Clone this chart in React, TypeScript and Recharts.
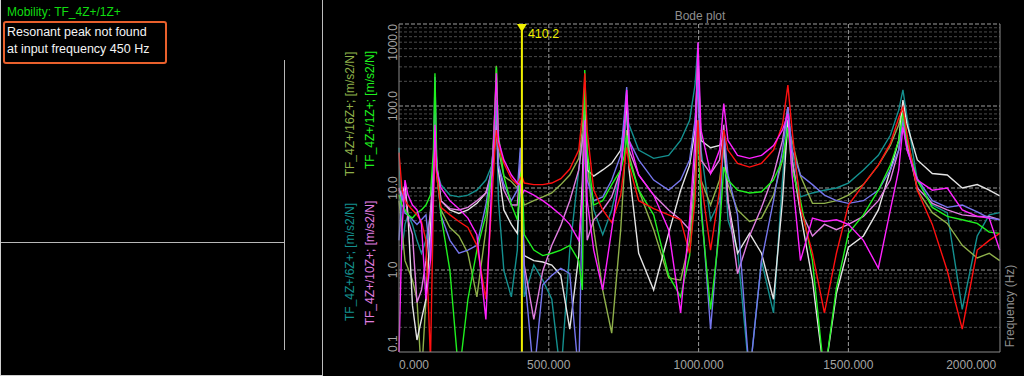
import React from 'react';
import { LineChart, Line, XAxis, YAxis, ReferenceLine } from 'recharts';

// frequency grid (Hz)
const freq = [0, 10, 20, 30, 45, 60, 75, 90, 105, 115, 120, 126, 140, 170, 200, 230, 260, 290, 310, 320, 325, 332, 350, 375, 395, 405, 410, 418, 450, 480, 510, 540, 570, 600, 612, 620, 628, 650, 680, 710, 740, 752, 760, 768, 800, 850, 900, 940, 970, 988, 998, 1008, 1040, 1070, 1084, 1098, 1130, 1170, 1210, 1250, 1280, 1298, 1312, 1340, 1380, 1420, 1460, 1500, 1550, 1600, 1640, 1668, 1682, 1696, 1730, 1780, 1830, 1880, 1930, 1970, 2005];

// magnitudes [m/s2/N]
const tf1Z = [8.2, 6.2, 5.4, 4.7, 4.3, 5, 5.4, 6.2, 8.2, 29, 250, 22, 4.7, 0.98, 0.05, 0.44, 1.75, 4.7, 16.6, 67, 300, 44, 14, 6.2, 4.1, 14, 16.6, 2.7, 1.75, 1.5, 1.6, 1.75, 2.0, 1.3, 0.57, 275, 29, 6.2, 7, 11, 16.6, 25, 44, 22, 9.4, 4.7, 0.86, 0.47, 1.5, 9.4, 59, 5.4, 0.33, 3.1, 18, 12.5, 9.4, 8.7, 9, 12.5, 22, 55, 16.6, 7, 1.3, 0.05, 0.6, 2.8, 4.7, 9.4, 19, 38, 82, 38, 12.5, 5.8, 4.5, 4.1, 3.7, 2.9, 2.8];
const tf16Z = [7, 3.1, 1.3, 1.05, 0.75, 0.44, 0.05, 0.44, 3.1, 12.5, 38, 14, 5.4, 3.3, 2.6, 1.6, 0.47, 3.1, 16.6, 89, 310, 29, 14, 12, 10, 13, 8.2, 6.2, 7, 7.8, 8.7, 11, 14.4, 23, 51, 180, 22, 3.1, 0.57, 0.17, 3.1, 16.6, 51, 25, 9.4, 3.1, 0.8, 0.75, 2.3, 12.5, 67, 12.5, 6.2, 12.5, 31, 11, 5.4, 3.9, 4.3, 8.2, 22, 51, 38, 14, 6.5, 6.5, 7, 8.2, 11, 19, 33, 59, 95, 38, 9.4, 5, 3.7, 2.0, 1.4, 1.6, 1.3];
const tf6Z = [31, 1.75, 3.6, 4.7, 3.6, 2.3, 1.6, 2.3, 4.7, 12.5, 38, 16.6, 11, 8.2, 7.8, 8.2, 9.4, 12.5, 19, 51, 85, 7, 0.98, 0.47, 1.75, 27, 3.1, 0.47, 1.15, 0.75, 0.44, 0.05, 1.75, 16.6, 38, 67, 19.5, 5.4, 2.7, 5.4, 16.6, 38, 80, 59, 29, 23, 25, 38, 67, 180, 580, 29, 4.1, 7, 33, 4.1, 1.75, 0.05, 1.3, 0.3, 12.5, 89, 29, 7.8, 8.7, 9.4, 10, 11.5, 16.6, 25, 44, 89, 157, 72, 12.5, 6.2, 5, 0.33, 2.6, 4.7, 5];
const tf10Z = [10, 7, 9.4, 4.1, 2.7, 0.4, 0.57, 1.3, 5.4, 16.6, 51, 19, 7, 5.6, 5.4, 5.8, 7, 8.7, 16.6, 44, 89, 19, 9.4, 6.2, 6.2, 20, 5.4, 1.15, 0.25, 0.98, 2.0, 3.5, 7, 16.6, 38, 59, 2.3, 4.1, 5.4, 7.8, 16.6, 51, 136, 29, 14.4, 8.2, 5.4, 4.1, 3.1, 22, 275, 22, 15, 22, 59, 7, 0.9, 2.6, 5.8, 14.4, 38, 97, 22, 5.4, 2.6, 3.6, 3.1, 3.6, 4.5, 7, 12.5, 29, 82, 33, 10, 6.5, 5.4, 4.7, 4.5, 4.5, 4.1];
const redTrace = [27, 9.5, 7, 6.2, 5.4, 4.7, 3.9, 2.3, 0.08, 7, 33, 14, 5.8, 4.7, 3.9, 3.3, 2.0, 0.44, 7, 29, 51, 33, 20, 13, 11, 13, 14, 11.5, 11, 11, 11.5, 13, 17, 29, 77, 250, 50, 9.4, 5.4, 3.8, 8.2, 19, 31, 19, 7, 5.6, 4.7, 4.1, 1.6, 7, 67, 12.5, 1.75, 9.4, 51, 29, 20, 18, 20, 29, 59, 180, 51, 5.8, 1.6, 0.3, 1.6, 6.2, 11, 19, 35, 72, 97, 44, 9.4, 3.6, 0.98, 0.19, 1.75, 2.3, 2.8];
const magentaTrace = [0.1, 3.1, 12.5, 8.2, 6.2, 5.4, 3.6, 0.44, 1.3, 9.4, 59, 16.6, 10, 7, 5.6, 4.3, 2.7, 0.25, 12.5, 89, 250, 38, 22, 14.4, 11.5, 11, 8.2, 9.4, 8.2, 7, 5.8, 4.7, 3.6, 2.3, 7, 67, 7, 1.75, 0.57, 3.1, 16.6, 51, 157, 38, 14.4, 8.2, 3.1, 0.3, 4.1, 38, 600, 51, 15, 29, 107, 38, 25, 23, 25, 33, 51, 80, 14.4, 1.3, 4.3, 3.9, 4.1, 3.6, 2.3, 1.05, 5.4, 16.6, 56, 29, 12.5, 9.4, 10, 5.4, 4.5, 4.3, 1.75];
const blueTrace = [2.3, 9.4, 4.9, 4.7, 4.1, 3.6, 4.1, 4.7, 1.3, 12.5, 225, 16.6, 4.7, 2.3, 1.6, 1.75, 2.0, 6.2, 19, 51, 118, 19, 11, 7, 9.4, 31, 9.4, 0.98, 0.05, 0.66, 0.86, 1.05, 0.9, 0.05, 7, 56, 12.5, 7, 7.8, 12.5, 25, 77, 170, 38, 22, 12.5, 9.4, 12.5, 22, 67, 208, 7, 0.19, 4.1, 51, 14.4, 4.7, 0.05, 1.3, 7, 29, 97, 29, 14.4, 11, 8.2, 7, 6.5, 7, 9.4, 16.6, 29, 67, 29, 13, 7, 5.8, 6.2, 5.1, 4.3, 4.1];
const whiteTrace = [9.4, 8.2, 11, 4.7, 0.37, 0.14, 0.25, 0.44, 3.1, 16.6, 59, 19, 7, 5.4, 4.9, 5.4, 6.5, 8.7, 14.4, 38, 67, 16.6, 5.4, 3.6, 2.8, 14.4, 7, 1.5, 1.3, 1.25, 1.15, 0.86, 0.19, 1.5, 12.5, 108, 16.6, 14, 16.6, 20, 29, 59, 108, 16.6, 1.6, 0.57, 2.8, 9.4, 19, 51, 364, 38, 31, 33, 42, 7, 1.6, 2.8, 1.6, 0.44, 7, 67, 22, 4.9, 0.75, 0.05, 0.52, 1.9, 2.6, 5.4, 16.6, 38, 118, 59, 22, 15, 14.4, 10, 11, 9.4, 8];

const xTicks = [0, 500, 1000, 1500, 2000];
const yTicks = [0.1, 1, 10, 100, 1000];
const majorGrid = [1, 10, 100, 1000];
const minorGrid = [0.2, 0.3, 0.4, 0.5, 0.6, 0.7, 0.8, 0.9, 2, 3, 4, 5, 6, 7, 8, 9, 20, 30, 40, 50, 60, 70, 80, 90, 200, 300, 400, 500, 600, 700, 800, 900];
const freqGrid = [500, 1000, 1500];
const cursorFreq = 410.2;

const FONT = '"Liberation Sans", Arial, sans-serif';
const AXIS_GRAY = '#8a8a8a';
const TEXT_GRAY = '#a4a4a4';

const series = [
  { key: 'tf6Z', values: tf6Z, color: '#14908f' },
  { key: 'tf16Z', values: tf16Z, color: '#8fb04a' },
  { key: 'white', values: whiteTrace, color: '#e4e4e4' },
  { key: 'tf10Z', values: tf10Z, color: '#e07ee0' },
  { key: 'blue', values: blueTrace, color: '#7676ee' },
  { key: 'tf1Z', values: tf1Z, color: '#1ff01f' },
  { key: 'red', values: redTrace, color: '#ff1010' },
  { key: 'magenta', values: magentaTrace, color: '#ff22ff' },
];

const XTick = (props: any) => {
  const { x, y, payload } = props;
  const v = payload.value;
  const anchor = v === xTicks[0] ? 'start' : v === xTicks[xTicks.length - 1] ? 'end' : 'middle';
  return (
    <text x={anchor === 'end' ? x - 2 : x} y={y} dy="0.71em" textAnchor={anchor} fill={TEXT_GRAY} fontSize={12} fontFamily={FONT}>
      {v.toFixed(3)}
    </text>
  );
};

const YTick = (props: any) => {
  const { x, y, payload } = props;
  const v = payload.value;
  const anchor = v === yTicks[yTicks.length - 1] ? 'end' : v === yTicks[0] ? 'start' : 'middle';
  const tx = x + 6;
  return (
    <text x={tx} y={y} transform={`rotate(-90 ${tx} ${y})`} textAnchor={anchor} fill={TEXT_GRAY} fontSize={12} fontFamily={FONT}>
      {v.toFixed(1)}
    </text>
  );
};

const CursorMark = (props: any) => {
  const { x, y } = props.viewBox;
  return (
    <g>
      <polygon points={`${x - 5},${y} ${x + 5},${y} ${x},${y + 8}`} fill="#f0f000" />
      <text x={x + 6} y={y + 14} fill="#f0f000" fontSize={12.5} fontFamily={FONT}>
        {cursorFreq.toFixed(1)}
      </text>
    </g>
  );
};

const Rotated = ({ cx, cy, color, children }: any) => (
  <div
    style={{
      position: 'absolute',
      left: cx - 80,
      top: cy - 9,
      width: 160,
      height: 18,
      lineHeight: '18px',
      fontSize: 12,
      textAlign: 'center',
      whiteSpace: 'nowrap',
      color,
      transform: 'rotate(-90deg)',
    }}
  >
    {children}
  </div>
);

export default function App() {
  const data = freq.map((f, i) => {
    const row: any = { f };
    series.forEach((s) => {
      row[s.key] = s.values[i];
    });
    return row;
  });

  return (
    <div style={{ position: 'fixed', left: 0, top: 0, width: 1024, height: 376, background: '#000', overflow: 'hidden', fontFamily: FONT }}>
      {/* left info panel */}
      <div style={{ position: 'absolute', left: 0, top: 0, width: 321, height: 375, borderLeft: '1px solid #cfcfcf', borderRight: '1px solid #bdbdbd', borderBottom: '1px solid #cfcfcf' }} />
      <div style={{ position: 'absolute', left: 284, top: 60, width: 1, height: 290, background: '#b8b8b8' }} />
      <div style={{ position: 'absolute', left: 1, top: 242, width: 284, height: 1, background: '#b8b8b8' }} />
      <div style={{ position: 'absolute', left: 3, top: 21, width: 160, height: 39, border: '2px solid #e8602c', borderRadius: 3 }} />
      <div style={{ position: 'absolute', left: 7, top: 4, fontSize: 12, lineHeight: '16px', color: '#10dd10', whiteSpace: 'nowrap' }}>
        Mobility: TF_4Z+/1Z+
      </div>
      <div style={{ position: 'absolute', left: 7, top: 24, fontSize: 12.5, lineHeight: '17px', color: '#f4f4f4', whiteSpace: 'nowrap' }}>
        Resonant peak not found
        <br />
        at input frequency 450 Hz
      </div>

      {/* Bode plot panel */}
      <div style={{ position: 'absolute', left: 600, top: 9, width: 200, textAlign: 'center', fontSize: 12, lineHeight: '14px', color: '#8e8e8e' }}>
        Bode plot
      </div>
      <Rotated cx={350} cy={114} color="#8fb04a">TF_4Z+/16Z+; [m/s2/N]</Rotated>
      <Rotated cx={350} cy={262} color="#14908f">TF_4Z+/6Z+; [m/s2/N]</Rotated>
      <Rotated cx={370} cy={110} color="#1ff01f">TF_4Z+/1Z+; [m/s2/N]</Rotated>
      <Rotated cx={370} cy={263} color="#e07ee0">TF_4Z+/10Z+; [m/s2/N]</Rotated>
      <div
        style={{
          position: 'absolute',
          left: 1010 - 60,
          top: 306 - 8,
          width: 120,
          height: 16,
          lineHeight: '16px',
          fontSize: 12,
          textAlign: 'center',
          color: '#8e8e8e',
          transform: 'rotate(-90deg)',
          whiteSpace: 'nowrap',
        }}
      >
        Frequency (Hz)
      </div>

      <div style={{ position: 'absolute', left: 330, top: 0 }}>
        <LineChart width={694} height={376} data={data} margin={{ top: 24, right: 0, bottom: 0, left: 0 }}>
          <XAxis
            dataKey="f"
            type="number"
            domain={[0, 2006]}
            ticks={xTicks}
            interval={0}
            height={24}
            tickLine={false}
            axisLine={{ stroke: AXIS_GRAY }}
            tick={<XTick />}
          />
          <YAxis
            scale="log"
            domain={[0.1, 1000]}
            allowDataOverflow
            ticks={yTicks}
            interval={0}
            width={69}
            tickLine={false}
            axisLine={{ stroke: AXIS_GRAY }}
            tick={<YTick />}
          />
          <YAxis yAxisId="right" orientation="right" width={24} domain={[0, 1]} tick={false} tickLine={false} axisLine={{ stroke: AXIS_GRAY }} />
          {minorGrid.map((v) => (
            <ReferenceLine key={'mi' + v} y={v} stroke="#4c4c4c" strokeDasharray="3 2" />
          ))}
          {majorGrid.map((v) => (
            <ReferenceLine key={'ma' + v} y={v} stroke="#9c9c9c" strokeDasharray="4 2" />
          ))}
          {freqGrid.map((v) => (
            <ReferenceLine key={'fx' + v} x={v} stroke="#9c9c9c" strokeDasharray="4 2" />
          ))}
          {series.map((s) => (
            <Line
              key={s.key}
              dataKey={s.key}
              stroke={s.color}
              strokeWidth={1.4}
              dot={false}
              type="linear"
              isAnimationActive={false}
            />
          ))}
          <ReferenceLine x={cursorFreq} stroke="#f0f000" strokeWidth={2} label={<CursorMark />} />
        </LineChart>
      </div>
    </div>
  );
}
